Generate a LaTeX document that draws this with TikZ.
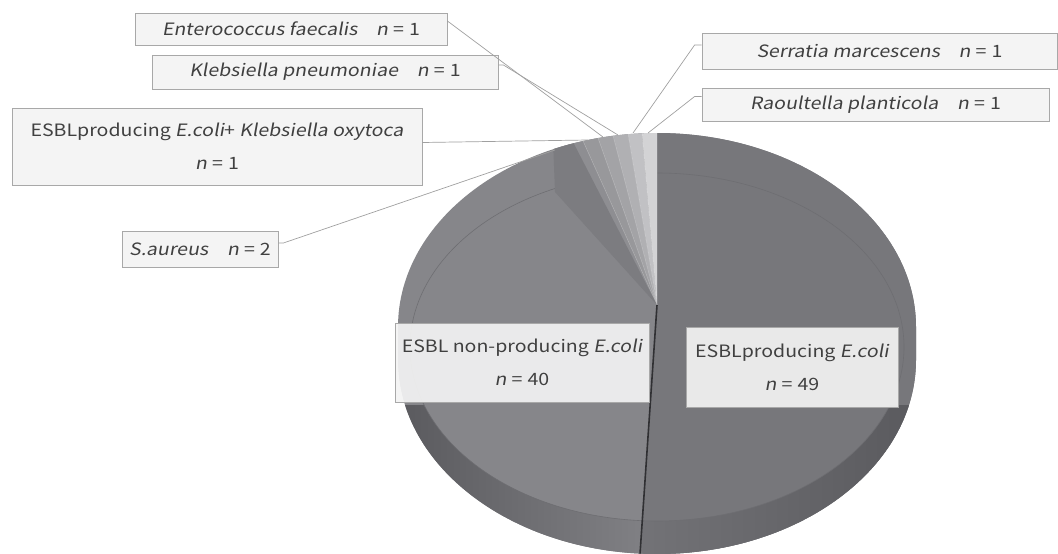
\documentclass[tikz,border=0pt]{standalone}
\usepackage{fontspec}
\setmainfont{Noto Sans CJK JP}[AutoFakeSlant=0.18, FakeStretch=1.15]
\usetikzlibrary{calc,shadows}
\definecolor{cNon}{HTML}{86868A}
\definecolor{cPro}{HTML}{77777B}
\definecolor{cNonSideD}{HTML}{5A5A5E}
\definecolor{cNonSideL}{HTML}{828286}
\definecolor{cProSideL}{HTML}{737377}
\definecolor{cProSideD}{HTML}{5A5A5E}
\definecolor{cRim}{HTML}{6E6E72}
\definecolor{cRao}{HTML}{D3D3D5}
\definecolor{cSer}{HTML}{C1C1C4}
\definecolor{cKpn}{HTML}{B0B0B3}
\definecolor{cEnt}{HTML}{A3A3A6}
\definecolor{cKox}{HTML}{98989B}
\definecolor{cSau}{HTML}{8E8E92}
\definecolor{cSauD}{HTML}{7C7C80}
\definecolor{cDiv}{HTML}{303033}
\definecolor{cBox}{HTML}{F6F6F6}
\definecolor{cBorder}{HTML}{A8A8A8}
\definecolor{cLead}{HTML}{A0A0A0}
\definecolor{cText}{HTML}{404040}
\newcommand{\ncount}[1]{\textit{n}\hspace{0.3em}=\hspace{0.3em}#1}
\begin{document}
\begin{tikzpicture}[x=1pt,y=-1pt,
  lbl/.style={draw=cBorder, line width=0.8pt, fill=cBox, fill opacity=0.9, text opacity=1,
    text=cText, inner sep=0pt, align=center, font=\fontsize{17}{33}\selectfont,
    drop shadow={opacity=0.18, shadow xshift=1.2pt, shadow yshift=-1.2pt}},
  leader/.style={draw=cLead, line width=0.7pt},
  wedge/.style={draw=white, draw opacity=0.25, line width=0.4pt}]
\useasboundingbox (0,0) rectangle (1058,554);

% key points of the pie
\coordinate (apex) at (657,305);
\coordinate (bot) at (640,554);
\coordinate (r0) at (657,133);
\coordinate (r1) at (642,133.3);
\coordinate (r2) at (628,134.2);
\coordinate (r3) at (613,135.8);
\coordinate (r4) at (598,138.1);
\coordinate (r5) at (583,141.1);
\coordinate (r6) at (553,149.3);

\begin{scope}
  \clip (398,360) arc[start angle=180,end angle=0,x radius=259,y radius=194]
        -- (916,327) arc[start angle=0,end angle=-180,x radius=259,y radius=194] -- cycle;
  \fill[cNon] (380,120) rectangle (930,570);
  \fill[cPro] (apex) -- (657,100) -- (930,100) -- (930,570) -- (636.9,600) -- cycle;
  % side wall band
  \begin{scope}[even odd rule]
    \clip (398,360) arc[start angle=180,end angle=0,x radius=259,y radius=194]
        -- (916,327) arc[start angle=0,end angle=-180,x radius=259,y radius=194] -- cycle
        (657,347) ellipse[x radius=247,y radius=174];
    \clip (380,405) rectangle (930,570);
    \shade[left color=cNonSideD, right color=cNonSideL] (398,300) -- (apex) -- (636.9,600) -- (398,600) -- cycle;
    \shade[left color=cProSideL, right color=cProSideD] (apex) -- (916,300) -- (916,600) -- (636.9,600) -- cycle;
  \end{scope}
  \draw[cRim, line width=0.6pt] (657,347) ellipse[x radius=247,y radius=174];
  % small slices
  \fill[cRao, wedge] (apex) -- ($(apex)!1.5!(r0)$) -- ($(apex)!1.5!(r1)$) -- cycle;
  \fill[cSer, wedge] (apex) -- ($(apex)!1.5!(r1)$) -- ($(apex)!1.5!(r2)$) -- cycle;
  \fill[cKpn, wedge] (apex) -- ($(apex)!1.5!(r2)$) -- ($(apex)!1.5!(r3)$) -- cycle;
  \fill[cEnt, wedge] (apex) -- ($(apex)!1.5!(r3)$) -- ($(apex)!1.5!(r4)$) -- cycle;
  \fill[cKox, wedge] (apex) -- ($(apex)!1.5!(r4)$) -- ($(apex)!1.5!(r5)$) -- cycle;
  \fill[cSau, wedge] (apex) -- ($(apex)!1.5!(r5)$) -- ($(apex)!1.5!(r6)$) -- cycle;
  \fill[cSauD] (553,140) -- (555,192) -- (apex) -- (572,140) -- cycle;
  \draw[cDiv, line width=1.6pt] (apex) -- (bot);
\end{scope}

% labels
\node[lbl, minimum width=312pt, minimum height=32pt] (ent) at (291,29)
  {\textit{Enterococcus faecalis}\hspace{1.1em}\ncount{1}};
\node[lbl, minimum width=346pt, minimum height=34pt] (kpn) at (325,72)
  {\textit{Klebsiella pneumoniae}\hspace{1.1em}\ncount{1}};
\node[lbl, minimum width=410pt, minimum height=77pt] (kox) at (217,146.5)
  {ESBLproducing \textit{E.coli}+ \textit{Klebsiella oxytoca}\\\ncount{1}};
\node[lbl, minimum width=156pt, minimum height=36pt] (sau) at (200,249)
  {\textit{S.aureus}\hspace{1.1em}\ncount{2}};
\node[lbl, minimum width=355pt, minimum height=36pt] (ser) at (879.5,51)
  {\textit{Serratia marcescens}\hspace{1.1em}\ncount{1}};
\node[lbl, minimum width=347pt, minimum height=33pt] (rao) at (875.5,104.5)
  {\textit{Raoultella planticola}\hspace{1.1em}\ncount{1}};
\node[lbl, minimum width=254pt, minimum height=79pt] (non) at (522,362.5)
  {ESBL non-producing \textit{E.coli}\\\ncount{40}};
\node[lbl, minimum width=212pt, minimum height=80pt] (pro) at (792,367)
  {ESBLproducing \textit{E.coli}\\\ncount{49}};

% leader lines
\coordinate (pEnt) at (603,137);
\coordinate (pKpn) at (618,135);
\coordinate (pKox) at (588,140);
\coordinate (pSau) at (555,150);
\coordinate (pSer) at (633,133);
\coordinate (pRao) at (648,133);
\draw[leader] ($(ent.east)+(0,-8)$) -- (pEnt);
\draw[leader] ($(kpn.east)+(0,-7)$) -- ++(5,0) -- (pKpn);
\draw[leader] ($(kox.east)+(0,-4)$) -- (pKox);
\draw[leader] ($(sau.east)+(0,-6)$) -- ++(5,0) -- (pSau);
\draw[leader] ($(ser.west)+(0,-6)$) -- ++(-7,0) -- (pSer);
\draw[leader] ($(rao.west)+(0,-8)$) -- ++(-7,0) -- (pRao);
\end{tikzpicture}
\end{document}
